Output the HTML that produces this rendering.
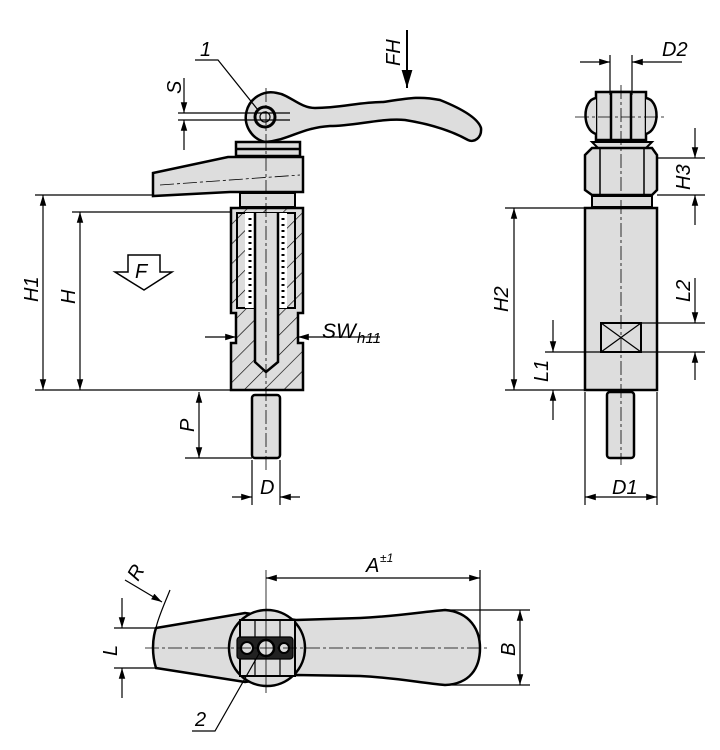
<!DOCTYPE html>
<html><head><style>html,body{margin:0;padding:0;background:#fff}svg{display:block}text{font-family:"Liberation Sans",sans-serif;font-style:italic;font-size:20px;fill:#000}</style></head>
<body>
<svg width="720" height="750" viewBox="0 0 720 750" xmlns="http://www.w3.org/2000/svg">
<defs>
<marker id="a" viewBox="0 0 10 10" refX="10" refY="5" markerWidth="9" markerHeight="9" orient="auto-start-reverse"><path d="M0,2 L10,5 L0,8z" fill="#000"/></marker>
<pattern id="h" width="14" height="14" patternUnits="userSpaceOnUse" patternTransform="rotate(45)"><rect width="14" height="14" fill="#ddd"/><line x1="0" y1="0" x2="0" y2="14" stroke="#000" stroke-width="1.3"/></pattern>
</defs>
<g stroke="#000" fill="none" stroke-width="1.2">
<!-- LEFT VIEW -->
<path d="M277,93 C290,95 300,108 315,108 C340,108 360,102 383,102 C410,98 420,96 440,100 C460,108 478,118 481,128 C482,138 474,143 468,140 C450,130 430,124 405,120 C380,118 355,126 330,126 C300,128 290,140 265,142 A25,25 0 1,1 277,93z" fill="#ddd" stroke-width="2.5"/>
<circle cx="265" cy="117" r="10" fill="#ddd" stroke-width="3"/>
<circle cx="265" cy="117" r="5" fill="#ddd"/>
<rect x="236" y="142" width="64" height="14" fill="#ddd" stroke-width="2.5"/>
<line x1="236" y1="149" x2="300" y2="149" stroke-width="2.5"/>
<path d="M153,173 L228,157 L303,157 L303,192 L230,192 L153,196z" fill="#ddd" stroke-width="2.5"/>
<rect x="240" y="193" width="55" height="14" fill="#ddd" stroke-width="2"/>
<path d="M231,208 H303 V313 H298 V343 H303 V390 H231 V343 H236 V313 H231z" fill="url(#h)" stroke-width="2.5"/>
<rect x="237" y="213" width="58" height="95" fill="url(#h)" stroke-width="2"/>
<rect x="245" y="213" width="42" height="95" fill="#fff" stroke="none"/>
<path d="M255,213 V362 L266,372 L278,362 V213" fill="#ddd" stroke-width="2.5"/>
<g stroke-width="3" stroke-dasharray="2 4"><line x1="250" y1="218" x2="250" y2="305"/><line x1="283" y1="218" x2="283" y2="305"/></g>
<rect x="252" y="395" width="28" height="63" rx="3" fill="#ddd" stroke-width="2.5"/>
<line x1="266" y1="88" x2="266" y2="470" stroke-width="0.8" stroke-dasharray="14 3 3 3"/>
<line x1="160" y1="185" x2="300" y2="175" stroke-width="0.8" stroke-dasharray="14 3 3 3"/>
<line x1="35" y1="195" x2="153" y2="195"/>
<line x1="72" y1="212" x2="231" y2="212"/>
<line x1="35" y1="390" x2="231" y2="390"/>
<line x1="43" y1="195" x2="43" y2="390" marker-start="url(#a)" marker-end="url(#a)"/>
<line x1="80" y1="212" x2="80" y2="390" marker-start="url(#a)" marker-end="url(#a)"/>
<line x1="199" y1="392" x2="199" y2="458" marker-start="url(#a)" marker-end="url(#a)"/>
<line x1="185" y1="458" x2="252" y2="458"/>
<line x1="252" y1="460" x2="252" y2="505"/><line x1="280" y1="460" x2="280" y2="505"/>
<line x1="232" y1="497" x2="252" y2="497" marker-end="url(#a)"/><line x1="300" y1="497" x2="280" y2="497" marker-end="url(#a)"/>
<line x1="205" y1="337" x2="236" y2="337" marker-end="url(#a)"/><line x1="380" y1="337" x2="298" y2="337" marker-end="url(#a)"/>
<line x1="178" y1="113" x2="290" y2="113"/><line x1="178" y1="120" x2="290" y2="120"/>
<line x1="184" y1="78" x2="184" y2="113" marker-end="url(#a)"/><line x1="184" y1="150" x2="184" y2="120" marker-end="url(#a)"/>
<line x1="407" y1="30" x2="407" y2="88" stroke-width="2" marker-end="url(#a)"/>
<path d="M195,60 H218 L258,110"/>
<path d="M128,255 H160 V272 H172 L144,290 L115,272 H128z" stroke-width="1.5"/>
<!-- RIGHT VIEW -->
<path d="M596,92 H646 L646,140 H596z" fill="#ddd" stroke-width="2.5"/>
<path d="M596,98 C582,100 582,130 596,134 M646,98 C660,100 660,130 646,134" fill="#ddd" stroke-width="2.5"/>
<rect x="611" y="92" width="20" height="48" fill="#ddd" stroke-width="2.5"/>
<path d="M592,142 H652 L646,148 H598z" fill="#ddd" stroke-width="2"/>
<path d="M585,155 L592,148 H652 L657,155 V190 L652,195 H592 L585,190z" fill="#ddd" stroke-width="2.5"/>
<line x1="600" y1="148" x2="600" y2="195" stroke-width="1.5"/><line x1="644" y1="148" x2="644" y2="195" stroke-width="1.5"/>
<rect x="592" y="196" width="60" height="11" fill="#ddd" stroke-width="2"/>
<rect x="585" y="208" width="72" height="182" fill="#ddd" stroke-width="2.5"/>
<rect x="601" y="323" width="40" height="29" fill="#ddd" stroke-width="2"/>
<path d="M601,323 L641,352 M641,323 L601,352"/>
<rect x="607" y="392" width="27" height="66" rx="3" fill="#ddd" stroke-width="2.5"/>
<line x1="621" y1="85" x2="621" y2="465" stroke-width="0.8" stroke-dasharray="14 3 3 3"/>
<line x1="575" y1="117" x2="665" y2="117" stroke-width="0.8" stroke-dasharray="14 3 3 3"/>
<line x1="610" y1="55" x2="610" y2="95"/><line x1="632" y1="55" x2="632" y2="95"/>
<line x1="580" y1="62" x2="610" y2="62" marker-end="url(#a)"/><line x1="682" y1="62" x2="632" y2="62" marker-end="url(#a)"/>
<line x1="657" y1="158" x2="705" y2="158"/><line x1="657" y1="195" x2="705" y2="195"/>
<line x1="695" y1="128" x2="695" y2="158" marker-end="url(#a)"/><line x1="695" y1="225" x2="695" y2="195" marker-end="url(#a)"/>
<line x1="505" y1="208" x2="585" y2="208"/><line x1="505" y1="390" x2="585" y2="390"/>
<line x1="514" y1="208" x2="514" y2="390" marker-start="url(#a)" marker-end="url(#a)"/>
<line x1="641" y1="323" x2="705" y2="323"/><line x1="545" y1="352" x2="705" y2="352"/>
<line x1="695" y1="278" x2="695" y2="323" marker-end="url(#a)"/><line x1="695" y1="380" x2="695" y2="352" marker-end="url(#a)"/>
<line x1="553" y1="320" x2="553" y2="352" marker-end="url(#a)"/><line x1="553" y1="420" x2="553" y2="390" marker-end="url(#a)"/>
<line x1="585" y1="392" x2="585" y2="505"/><line x1="657" y1="392" x2="657" y2="505"/>
<line x1="585" y1="497" x2="657" y2="497" marker-start="url(#a)" marker-end="url(#a)"/>
<!-- BOTTOM VIEW -->
<path d="M156,628 L245,613 L296,620 L360,618 C400,616 420,612 445,610 C470,612 480,630 480,648 C480,668 470,684 445,685 C420,683 400,678 360,676 L296,675 L245,682 L156,668 C152,655 152,640 156,628z" fill="#ddd" stroke-width="2.5"/>
<circle cx="267" cy="648" r="38" fill="#ddd" stroke-width="2.5"/>
<rect x="240" y="620" width="55" height="56" fill="#ddd" stroke-width="2"/>
<line x1="255" y1="620" x2="255" y2="676"/><line x1="280" y1="620" x2="280" y2="676"/>
<rect x="237" y="637" width="56" height="22" rx="3" fill="#222"/>
<circle cx="247" cy="648" r="6" fill="#ddd" stroke-width="2"/><circle cx="266" cy="648" r="8" fill="#ddd" stroke-width="2.5"/><circle cx="284" cy="648" r="5" fill="#ddd" stroke-width="2"/>
<line x1="145" y1="648" x2="490" y2="648" stroke-width="0.8" stroke-dasharray="14 3 3 3"/>
<line x1="266" y1="570" x2="266" y2="693" stroke-width="0.8"/>
<line x1="480" y1="570" x2="480" y2="650"/>
<line x1="266" y1="578" x2="480" y2="578" marker-start="url(#a)" marker-end="url(#a)"/>
<line x1="445" y1="610" x2="530" y2="610"/><line x1="445" y1="685" x2="530" y2="685"/>
<line x1="520" y1="610" x2="520" y2="685" marker-start="url(#a)" marker-end="url(#a)"/>
<line x1="114" y1="628" x2="156" y2="628"/><line x1="114" y1="668" x2="156" y2="668"/>
<line x1="122" y1="598" x2="122" y2="628" marker-end="url(#a)"/><line x1="122" y1="698" x2="122" y2="668" marker-end="url(#a)"/>
<path d="M170,590 C164,605 158,618 156,628"/>
<line x1="125" y1="580" x2="162" y2="602" marker-end="url(#a)"/>
<path d="M192,731 H215 L260,652"/>
</g>
<text x="200" y="56">1</text>
<text x="322" y="338" style="font-size:21px">SW</text><text x="357" y="343" style="font-size:15px">h11</text>
<text x="135" y="278">F</text>
<text x="260" y="494">D</text>
<text x="612" y="494">D1</text>
<text x="662" y="56">D2</text>
<text x="366" y="572">A</text><text x="380" y="562" style="font-size:12px">±1</text>
<text x="195" y="726">2</text>
<g>
<text transform="translate(38,302) rotate(-90)">H1</text>
<text transform="translate(75,304) rotate(-90)">H</text>
<text transform="translate(194,432) rotate(-90)">P</text>
<text transform="translate(181,94) rotate(-90)">S</text>
<text transform="translate(400,66) rotate(-90)">FH</text>
<text transform="translate(690,190) rotate(-90)">H3</text>
<text transform="translate(508,312) rotate(-90)">H2</text>
<text transform="translate(690,302) rotate(-90)">L2</text>
<text transform="translate(548,382) rotate(-90)">L1</text>
<text transform="translate(117,656) rotate(-90)">L</text>
<text transform="translate(515,656) rotate(-90)">B</text>
<text transform="translate(138,582) rotate(-60)">R</text>
</g>
</svg>
</body></html>
